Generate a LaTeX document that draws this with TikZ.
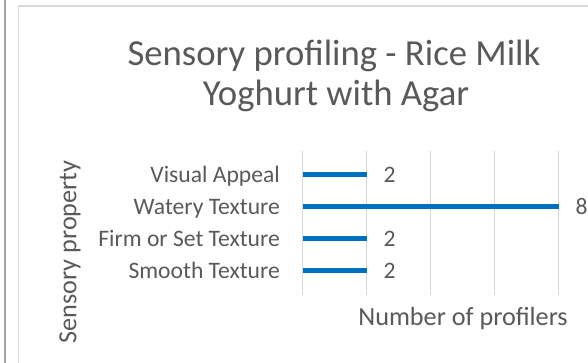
\documentclass[tikz,border=0pt]{standalone}
\usepackage{fontspec}
\setmainfont{Carlito}
\definecolor{txt}{HTML}{595959}
\definecolor{gridc}{HTML}{D9D9D9}
\definecolor{barc}{HTML}{0070C0}
\definecolor{edgec}{HTML}{A6A6A6}
\tikzset{
  titletext/.style={text=txt, inner sep=0pt, font=\fontsize{36.7}{44}\selectfont},
  cattext/.style={text=txt, inner sep=0pt, anchor=base east, font=\fontsize{23.6}{28}\selectfont},
  valtext/.style={text=txt, inner sep=0pt, anchor=base west, font=\fontsize{23.6}{28}\selectfont},
  axtitle/.style={text=txt, inner sep=0pt, font=\fontsize{26.2}{32}\selectfont},
  gridline/.style={draw=gridc, line width=1.3pt},
  barline/.style={draw=barc, line width=5.3pt},
}
\begin{document}
\begin{tikzpicture}[x=1pt, y=-1pt]
  \useasboundingbox (0,0) rectangle (588,362);
  \clip (0,0) rectangle (588,362);
  % page edge and chart frame
  \draw[edgec, line width=1.8pt] (4.8,-2) -- (4.8,364);
  \draw[gridc, line width=1.6pt] (18.5,364) -- (18.5,5.8) -- (590,5.8);

  % title
  \node[titletext, anchor=base] (title1) at (334,65) {Sensory profiling - Rice Milk};
  \node[titletext, anchor=base] (title2) at (336,105) {Yoghurt with Agar};

  % vertical grid lines (0, 2, 4, 6, 8)
  \foreach \i/\x in {0/302.7, 1/366.7, 2/430.7, 3/494.7, 4/558.7} {
    \coordinate (gt\i) at (\x,150.7);
    \coordinate (gb\i) at (\x,295);
    \draw[gridline] (gt\i) -- (gb\i);
  }

  % bars
  \coordinate (b1s) at (303.4,174.7); \coordinate (b1e) at (366.7,174.7);
  \coordinate (b2s) at (303.4,206.7); \coordinate (b2e) at (558.7,206.7);
  \coordinate (b3s) at (303.4,238.7); \coordinate (b3e) at (366.7,238.7);
  \coordinate (b4s) at (303.4,270.7); \coordinate (b4e) at (366.7,270.7);
  \draw[barline] (b1s) -- (b1e);
  \draw[barline] (b2s) -- (b2e);
  \draw[barline] (b3s) -- (b3e);
  \draw[barline] (b4s) -- (b4e);

  % category labels
  \node[cattext] (c1) at (280,182.4) {Visual Appeal};
  \node[cattext] (c2) at (280,214.4) {Watery Texture\ };
  \node[cattext] (c3) at (280,246.4) {Firm or Set Texture};
  \node[cattext] (c4) at (280,278.4) {Smooth Texture};

  % data labels
  \node[valtext] (v1) at (383.3,182.7) {2};
  \node[valtext] (v2) at (575.3,214.7) {8};
  \node[valtext] (v3) at (383.3,246.7) {2};
  \node[valtext] (v4) at (383.3,278.7) {2};

  % axis titles
  \node[axtitle, anchor=base] (xt) at (463,325) {Number of profilers};
  \node[axtitle, rotate=90] (yt) at (70,252) {Sensory property};
\end{tikzpicture}
\end{document}
